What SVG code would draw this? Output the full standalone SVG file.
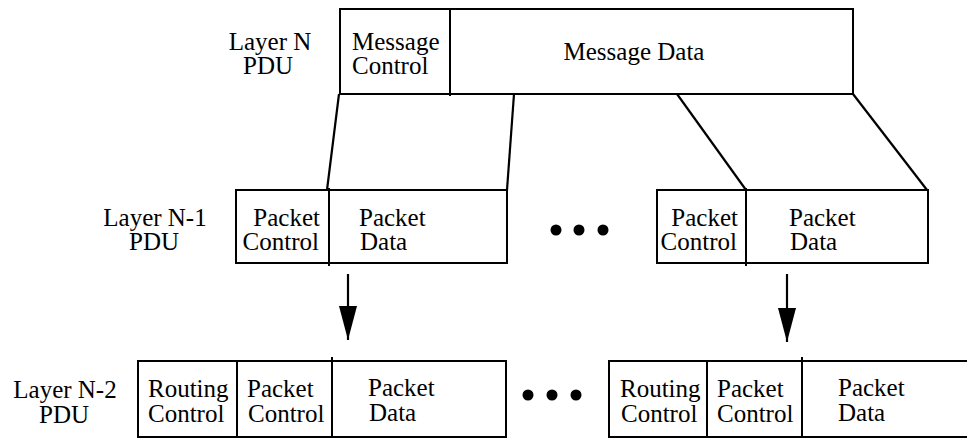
<svg xmlns="http://www.w3.org/2000/svg" width="967" height="439" viewBox="0 0 967 439">
<style>
.box{fill:#fff;stroke:#000;stroke-width:2}
.div{stroke:#000;stroke-width:2;fill:none}
.con{stroke:#000;stroke-width:2.2;fill:none}
text{font-family:"Liberation Serif","Times New Roman",serif;font-size:25px;fill:#000}
.m{text-anchor:middle}
.e{text-anchor:end}
</style>
<defs>
<marker id="ah" viewBox="0 0 34 18" refX="34" refY="9" markerWidth="34" markerHeight="18" markerUnits="userSpaceOnUse" orient="auto">
<path d="M0,0 L34,9 L0,18 Z" fill="#000"/>
</marker>
</defs>
<rect width="967" height="439" fill="#fff"/>

<g id="label-layer-n">
<text class="m" x="270" y="50">Layer N</text>
<text class="m" x="268" y="74">PDU</text>
</g>
<g id="layer-n-pdu">
<rect class="box" x="340" y="9" width="513" height="85"/>
<line class="div" x1="450" y1="9" x2="450" y2="96"/>
<text x="352" y="50">Message</text>
<text x="352" y="74">Control</text>
<text class="m" x="634" y="60">Message Data</text>
</g>

<g id="label-layer-n1">
<text class="m" x="155" y="226">Layer N-1</text>
<text class="m" x="154" y="250">PDU</text>
</g>
<g id="layer-n1-pdu-a">
<rect class="box" x="236" y="190" width="271" height="73"/>
<line class="div" x1="329" y1="188" x2="329" y2="266"/>
<text class="e" x="320" y="226">Packet</text>
<text class="e" x="319" y="250">Control</text>
<text x="359" y="226">Packet</text>
<text x="360" y="250">Data</text>
</g>
<g id="dots-n1">
<circle cx="556" cy="230" r="5.5"/>
<circle cx="579" cy="230" r="5.5"/>
<circle cx="603" cy="230" r="5.5"/>
</g>
<g id="layer-n1-pdu-b">
<rect class="box" x="657" y="190" width="271" height="73"/>
<line class="div" x1="746" y1="188" x2="746" y2="266"/>
<text class="e" x="738" y="226">Packet</text>
<text class="e" x="737" y="250">Control</text>
<text x="789" y="226">Packet</text>
<text x="790" y="250">Data</text>
</g>

<g id="label-layer-n2">
<text class="m" x="65" y="398">Layer N-2</text>
<text class="m" x="64" y="423">PDU</text>
</g>
<g id="layer-n2-pdu-a">
<rect class="box" x="138" y="361" width="368" height="76"/>
<line class="div" x1="237" y1="361" x2="237" y2="437"/>
<line class="div" x1="332" y1="357" x2="332" y2="437"/>
<text x="148" y="397">Routing</text>
<text x="148" y="422">Control</text>
<text x="247" y="397">Packet</text>
<text x="248" y="422">Control</text>
<text x="368" y="396">Packet</text>
<text x="369" y="421">Data</text>
</g>
<g id="dots-n2">
<circle cx="528" cy="395" r="5.5"/>
<circle cx="552" cy="395" r="5.5"/>
<circle cx="576" cy="395" r="5.5"/>
</g>
<g id="layer-n2-pdu-b">
<rect class="box" x="609" y="361" width="370" height="76"/>
<line class="div" x1="707" y1="361" x2="707" y2="437"/>
<line class="div" x1="802" y1="357" x2="802" y2="437"/>
<text x="620" y="397">Routing</text>
<text x="621" y="422">Control</text>
<text x="717" y="397">Packet</text>
<text x="717" y="422">Control</text>
<text x="838" y="396">Packet</text>
<text x="838" y="421">Data</text>
</g>

<g id="connectors">
<line class="con" x1="339" y1="94" x2="327" y2="190"/>
<line class="con" x1="514" y1="94" x2="507" y2="190"/>
<line class="con" x1="677" y1="94" x2="746" y2="190"/>
<line class="con" x1="853" y1="94" x2="927" y2="190"/>
<line class="con" x1="348" y1="274" x2="348" y2="340" marker-end="url(#ah)"/>
<line class="con" x1="787" y1="274" x2="787" y2="342" marker-end="url(#ah)"/>
</g>
</svg>
